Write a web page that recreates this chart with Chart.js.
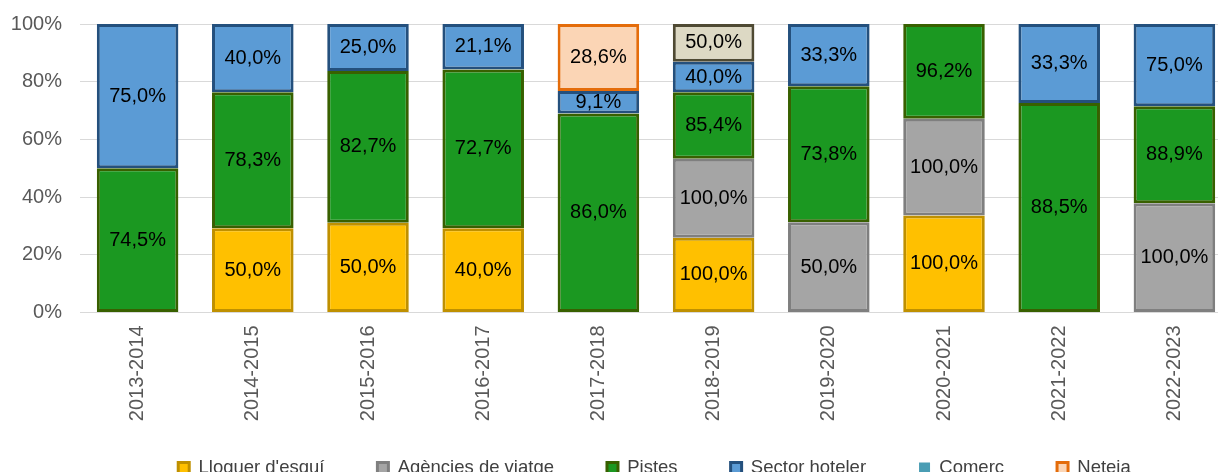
<!DOCTYPE html>
<html>
<head>
<meta charset="utf-8">
<title>Chart</title>
<script src="https://cdn.jsdelivr.net/npm/chart.js@4.4.1/dist/chart.umd.min.js"></script>
<style>
  html, body { margin: 0; padding: 0; overflow: hidden; background: #fff; }
</style>
</head>
<body>
<canvas id="myChart" width="1309" height="506" style="width:1309px;height:506px;display:block"></canvas>
<script>
//DATA
const labels = ['2013-2014', '2014-2015', '2015-2016', '2016-2017', '2017-2018',
  '2018-2019', '2019-2020', '2020-2021', '2021-2022', '2022-2023'];

const seriesNames = ["Lloguer d'esquí", 'Agències de viatge', 'Pistes', 'Sector hoteler', 'Comerç', 'Neteja'];

// alcada de cada tros de la barra (percentatge del total)
const lloguer = [null, 29.2, 31.1, 29.2, null, 25.9, null, 33.6, null, null];
const agencies = [null, null, null, null, null, 27.4, 31.3, 33.6, null, 37.9];
const pistes = [50, 47.1, 52.6, 55.0, 69.0, 23.0, 47.1, 32.8, 72.6, 33.6];
const hoteler = [50, 23.7, 16.3, 15.8, 7.8, 10.6, 21.6, null, 27.4, 28.5];
const comerc = [null, null, null, null, null, 13.1, null, null, null, null];
const neteja = [null, null, null, null, 23.2, null, null, null, null, null];

// el text que es veu dins de cada tros
const lloguerLbl = [null, 50.0, 50.0, 40.0, null, 100.0, null, 100.0, null, null];
const agenciesLbl = [null, null, null, null, null, 100.0, 50.0, 100.0, null, 100.0];
const pistesLbl = [74.5, 78.3, 82.7, 72.7, 86.0, 85.4, 73.8, 96.2, 88.5, 88.9];
const hotelerLbl = [75.0, 40.0, 25.0, 21.1, 9.1, 40.0, 33.3, null, 33.3, 75.0];
const comercLbl = [null, null, null, null, null, 50.0, null, null, null, null];
const netejaLbl = [null, null, null, null, 28.6, null, null, null, null, null];

const yTicks = [0, 20, 40, 60, 80, 100];

//COLORS
const fills = ['#FFC000', '#A5A5A5', '#1B9821', '#5B9BD5', '#DDD9C4', '#FBD5B5'];
const borders = ['#BF9000', '#7F7F7F', '#386000', '#24507D', '#4F4A33', '#E46C0A'];
const legendFills = ['#FFC000', '#A5A5A5', '#1B9821', '#5B9BD5', '#4A9DB4', '#FBD5B5'];
const legendLines = [3, 3, 3, 3, 0, 3];

const values = [lloguer, agencies, pistes, hoteler, comerc, neteja];
const valueLabels = [lloguerLbl, agenciesLbl, pistesLbl, hotelerLbl, comercLbl, netejaLbl];

const data = {
  labels: labels,
  datasets: seriesNames.map((name, i) => ({
    label: name,
    data: values[i],
    valueLabels: valueLabels[i],
    backgroundColor: fills[i],
    borderColor: borders[i],
    borderWidth: 3,
    borderSkipped: false,
    barPercentage: 0.708,
    categoryPercentage: 1
  }))
};

//LABELS INSIDE BARS
const barText = {
  id: 'barText',
  afterDatasetsDraw(chart) {
    const ctx = chart.ctx;
    ctx.save();
    ctx.font = "20px 'Liberation Sans', Arial, sans-serif";
    ctx.fillStyle = '#000000';
    ctx.textAlign = 'center';
    ctx.textBaseline = 'middle';
    chart.data.datasets.forEach((ds, i) => {
      const meta = chart.getDatasetMeta(i);
      meta.data.forEach((bar, j) => {
        const v = ds.valueLabels[j];
        if (v === null || ds.data[j] === null) return;
        const p = bar.getProps(['x', 'y', 'base'], true);
        ctx.fillText(v.toFixed(1).replace('.', ',') + '%', p.x, (p.y + p.base) / 2);
      });
    });
    ctx.restore();
  }
};

//LEGEND POSITION
// la llegenda va centrada a tot el canvas i una mica mes amunt (com a l'original, tallada a baix)
const legendSpot = {
  id: 'legendSpot',
  afterLayout(chart) {
    const lg = chart.legend;
    const shift = 468 - (lg.top + 53 + 18.5 / 2);
    lg.top += shift;
    lg.bottom += shift;
    lg.left = 0;
    lg.right = chart.width;
  }
};

Chart.defaults.font.family = "'Liberation Sans', Arial, sans-serif";

const config = {
  type: 'bar',
  data,
  plugins: [barText, legendSpot],
  options: {
    responsive: false,
    animation: false,
    layout: { padding: { top: 24, right: 77, left: 0, bottom: 0 } },
    plugins: {
      tooltip: { enabled: false },
      legend: {
        position: 'bottom',
        labels: {
          color: '#404040',
          font: { size: 18.5 },
          boxWidth: 11,
          boxHeight: 11,
          padding: 53,
          generateLabels: chart => chart.data.datasets.map((ds, i) => ({
            text: ds.label,
            fillStyle: legendFills[i],
            strokeStyle: borders[i],
            lineWidth: legendLines[i],
            fontColor: '#404040',
            hidden: false,
            datasetIndex: i
          }))
        }
      }
    },
    scales: {
      x: {
        stacked: true,
        grid: { display: false, drawTicks: false },
        border: { display: true, color: '#D9D9D9' },
        ticks: { minRotation: 90, maxRotation: 90, padding: 13, color: '#595959', font: { size: 20 } },
        afterFit: s => { s.height = 112; }
      },
      y: {
        stacked: true,
        min: 0,
        max: 100,
        afterBuildTicks: s => { s.ticks = yTicks.map(v => ({ value: v })); },
        ticks: { padding: 12, color: '#595959', font: { size: 20 }, callback: v => v + '%' },
        grid: { color: '#D9D9D9', drawTicks: true, tickLength: 6, tickColor: 'rgba(0,0,0,0)' },
        border: { display: false },
        afterFit: s => { s.width = 80; }
      }
    }
  }
};

var chart = document.querySelector('#myChart');
var myChart = new Chart(chart, config);
</script>
</body>
</html>
